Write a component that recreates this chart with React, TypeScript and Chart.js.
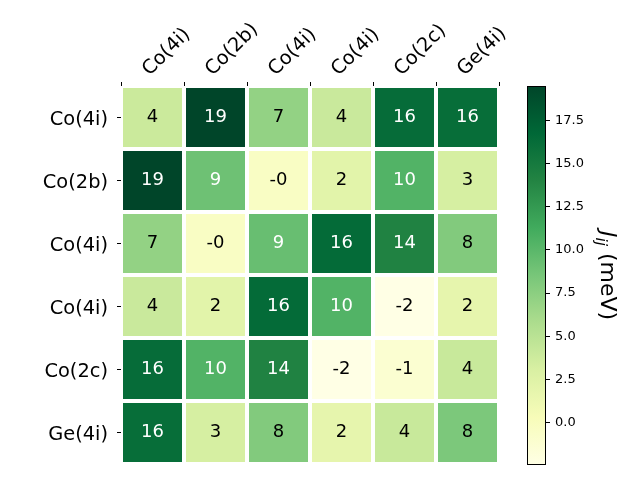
import React, { useEffect, useRef } from "react";
import { Chart, registerables } from "chart.js";

Chart.register(...registerables);

// ---------------- data ----------------
const colLabels = ["Co(4i)", "Co(2b)", "Co(4i)", "Co(4i)", "Co(2c)", "Ge(4i)"];
const rowLabels = ["Co(4i)", "Co(2b)", "Co(4i)", "Co(4i)", "Co(2c)", "Ge(4i)"];

const row0 = [3.9, 19.48, 7.1, 4.0, 16.3, 16.2];
const row1 = [19.48, 9.0, -0.4, 2.2, 10.4, 3.2];
const row2 = [7.1, -0.4, 9.3, 16.4, 14.2, 8.0];
const row3 = [4.0, 2.2, 16.4, 10.4, -2.45, 1.8];
const row4 = [16.3, 10.4, 14.2, -2.45, -1.2, 4.1];
const row5 = [16.2, 3.2, 8.0, 1.8, 4.1, 8.3];
const jValues = [row0, row1, row2, row3, row4, row5];

const colorbarTicks = [0, 2.5, 5, 7.5, 10, 12.5, 15, 17.5];
const colorbarLabelMain = "J";
const colorbarLabelSub = "ij";
const colorbarLabelUnit = " (meV)";

// YlGn colormap stops
const ylGnStops = [
  "#ffffe5", "#f7fcb9", "#d9f0a3", "#addd8e", "#78c679",
  "#41ab5d", "#238443", "#006837", "#004529",
];

const allVals = jValues.flat();
const vmin = Math.min(...allVals);
const vmax = Math.max(...allVals);

const FONT = "'DejaVu Sans', 'Liberation Sans', sans-serif";
Chart.defaults.font.family = FONT;
Chart.defaults.color = "#000";

function hexToRgb(h: string) {
  const n = parseInt(h.slice(1), 16);
  return [(n >> 16) & 255, (n >> 8) & 255, n & 255];
}
const stopRgb = ylGnStops.map(hexToRgb);

function norm(v: number) {
  return Math.max(0, Math.min(1, (v - vmin) / (vmax - vmin)));
}
function colorFor(v: number) {
  const t = norm(v) * (stopRgb.length - 1);
  const i = Math.min(Math.floor(t), stopRgb.length - 2);
  const f = t - i;
  const a = stopRgb[i];
  const b = stopRgb[i + 1];
  const c = a.map((x, k) => Math.round(x + (b[k] - x) * f));
  return `rgb(${c[0]},${c[1]},${c[2]})`;
}

// ------------- plugins -------------
const cellTextPlugin = {
  id: "cellText",
  afterDatasetsDraw(chart: any) {
    const ctx = chart.ctx;
    ctx.save();
    ctx.font = `18px ${FONT}`;
    ctx.textAlign = "center";
    ctx.textBaseline = "middle";
    chart.data.datasets.forEach((ds: any, r: number) => {
      const meta = chart.getDatasetMeta(r);
      meta.data.forEach((el: any, c: number) => {
        const v = jValues[r][c];
        ctx.fillStyle = norm(v) > 0.5 ? "#ffffff" : "#000000";
        const cy = (el.y + el.base) / 2;
        ctx.fillText(v.toFixed(0), el.x, cy);
      });
    });
    ctx.restore();
  },
};

const cbLabelPlugin = {
  id: "cbLabel",
  afterDraw(chart: any) {
    const ctx = chart.ctx;
    const area = chart.chartArea;
    const size = 22;
    const fMain = `italic ${size}px ${FONT}`;
    const fSub = `italic ${size * 0.7}px ${FONT}`;
    const fUnit = `${size}px ${FONT}`;
    ctx.save();
    ctx.font = fMain;
    const wJ = ctx.measureText(colorbarLabelMain).width;
    ctx.font = fSub;
    const wSub = ctx.measureText(colorbarLabelSub).width;
    ctx.font = fUnit;
    const wUnit = ctx.measureText(colorbarLabelUnit).width;
    const total = wJ + wSub + wUnit;
    const cy = (area.top + area.bottom) / 2;
    ctx.translate(601, cy - total / 2);
    ctx.rotate(Math.PI / 2);
    ctx.fillStyle = "#000";
    ctx.textBaseline = "alphabetic";
    ctx.textAlign = "left";
    ctx.font = fMain;
    ctx.fillText(colorbarLabelMain, 0, 0);
    ctx.font = fSub;
    ctx.fillText(colorbarLabelSub, wJ, size * 0.22);
    ctx.font = fUnit;
    ctx.fillText(colorbarLabelUnit, wJ + wSub, 0);
    ctx.restore();
  },
};

export default function App() {
  const mainRef = useRef<HTMLCanvasElement>(null);
  const cbRef = useRef<HTMLCanvasElement>(null);

  useEffect(() => {
    const tickGrid = {
      drawOnChartArea: false,
      drawTicks: true,
      tickLength: 4,
      color: "#000",
      lineWidth: 1,
    };
    const main = new Chart(mainRef.current as HTMLCanvasElement, {
      type: "bar",
      data: {
        labels: colLabels,
        datasets: jValues.map((row, r) => ({
          label: rowLabels[r],
          data: row.map(() => 1),
          backgroundColor: row.map((v) => colorFor(v)),
          borderColor: "#ffffff",
          borderWidth: 2,
          borderSkipped: false,
          inflateAmount: 0,
          barPercentage: 1,
          categoryPercentage: 1,
        })),
      },
      options: {
        responsive: false,
        animation: false,
        events: [],
        layout: { padding: { left: 0, top: 0, right: 141, bottom: 16 } },
        plugins: { legend: { display: false }, tooltip: { enabled: false } },
        scales: {
          x: {
            type: "category",
            position: "top",
            stacked: true,
            offset: true,
            grid: tickGrid,
            border: { display: false },
            ticks: {
              autoSkip: false,
              maxRotation: 45,
              minRotation: 45,
              padding: 1,
              labelOffset: 10,
              color: "#000",
              font: { size: 19.4 },
            },
            afterFit: (s: any) => {
              s.height = 86;
              s.paddingLeft = 0;
              s.paddingRight = 0;
            },
          },
          y: {
            type: "linear",
            stacked: true,
            min: 0,
            max: 6,
            reverse: true,
            display: false,
          },
          yLab: {
            type: "category",
            labels: rowLabels,
            offset: true,
            position: "left",
            grid: tickGrid,
            border: { display: false },
            ticks: {
              autoSkip: false,
              padding: 9,
              labelOffset: 2,
              color: "#000",
              font: { size: 19.4 },
            },
            afterFit: (s: any) => {
              s.width = 121;
              s.paddingTop = 0;
              s.paddingBottom = 0;
            },
          },
        },
      } as any,
      plugins: [cellTextPlugin],
    });

    const cb = new Chart(cbRef.current as HTMLCanvasElement, {
      type: "bar",
      data: {
        labels: [""],
        datasets: [
          {
            data: [[vmin, vmax]] as any,
            backgroundColor: (c: any) => {
              const chart = c.chart;
              const ys = chart.scales?.y;
              if (!chart.chartArea || !ys) return ylGnStops[0];
              const g = chart.ctx.createLinearGradient(
                0,
                ys.getPixelForValue(vmin),
                0,
                ys.getPixelForValue(vmax)
              );
              ylGnStops.forEach((col, i) => g.addColorStop(i / (ylGnStops.length - 1), col));
              return g;
            },
            borderColor: "#000",
            borderWidth: 1,
            borderSkipped: false,
            inflateAmount: 0,
            barPercentage: 1,
            categoryPercentage: 1,
          },
        ],
      },
      options: {
        responsive: false,
        animation: false,
        events: [],
        layout: { padding: { left: 527, top: 86, right: 0, bottom: 15 } },
        plugins: { legend: { display: false }, tooltip: { enabled: false } },
        scales: {
          x: { display: false, offset: true },
          y: {
            position: "right",
            min: vmin,
            max: vmax,
            afterBuildTicks: (s: any) => {
              s.ticks = colorbarTicks.map((v) => ({ value: v }));
            },
            ticks: {
              callback: (v: any) => Number(v).toFixed(1),
              color: "#000",
              font: { size: 13 },
              padding: 5,
            },
            grid: tickGrid,
            border: { display: false },
            afterFit: (s: any) => {
              s.width = 94;
              s.paddingTop = 0;
              s.paddingBottom = 0;
            },
          },
        },
      } as any,
      plugins: [cbLabelPlugin],
    });

    return () => {
      main.destroy();
      cb.destroy();
    };
  }, []);

  return (
    <div
      style={{
        position: "fixed",
        left: 0,
        top: 0,
        width: 640,
        height: 480,
        background: "#fff",
      }}
    >
      <canvas
        ref={mainRef}
        width={640}
        height={480}
        style={{ position: "absolute", left: 0, top: 0, width: 640, height: 480 }}
      />
      <canvas
        ref={cbRef}
        width={640}
        height={480}
        style={{ position: "absolute", left: 0, top: 0, width: 640, height: 480 }}
      />
    </div>
  );
}
